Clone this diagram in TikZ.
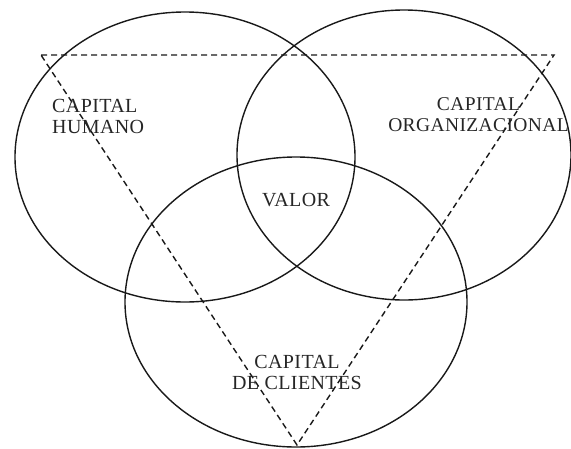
\documentclass[tikz,border=0pt]{standalone}
\usepackage{fontspec}
\setmainfont{Liberation Serif}[LetterSpace=2]
\usepackage{tikz}
\usetikzlibrary{positioning, calc}

\begin{document}
\begin{tikzpicture}[
    x=1pt, y=-1pt,
    venn/.style={draw=black!90, line width=1.4pt},
    apex/.style={draw=black!90, line width=1.4pt, dash pattern=on 6pt off 4pt},
    tag/.style={font=\fontsize{20}{21}\selectfont, text=black!85, inner sep=0pt, align=center}
]
\useasboundingbox (0,0) rectangle (571,448);

% triangle corners
\coordinate (tl) at (41,55);
\coordinate (tr) at (554,55);
\coordinate (bt) at (297,445);

% three sets
\draw[venn] (185,157) ellipse [x radius=170, y radius=145];
\draw[venn] (404,155) ellipse [x radius=167, y radius=145];
\draw[venn] (296,302) ellipse [x radius=171, y radius=145];

\draw[apex] (tl) -- (tr) -- (bt) -- cycle;

\node[tag, align=left, anchor=west] (humano) at (52,116) {CAPITAL\\HUMANO};
\node[tag, anchor=east, font=\fontsize{19.5}{21}\selectfont] (organiz) at (569,115) {CAPITAL\\ORGANIZACIONAL};
\node[tag] (valor) at (296,200) {VALOR};
\node[tag] (clientes) at (297,372) {CAPITAL\\DE CLIENTES};
\end{tikzpicture}
\end{document}
